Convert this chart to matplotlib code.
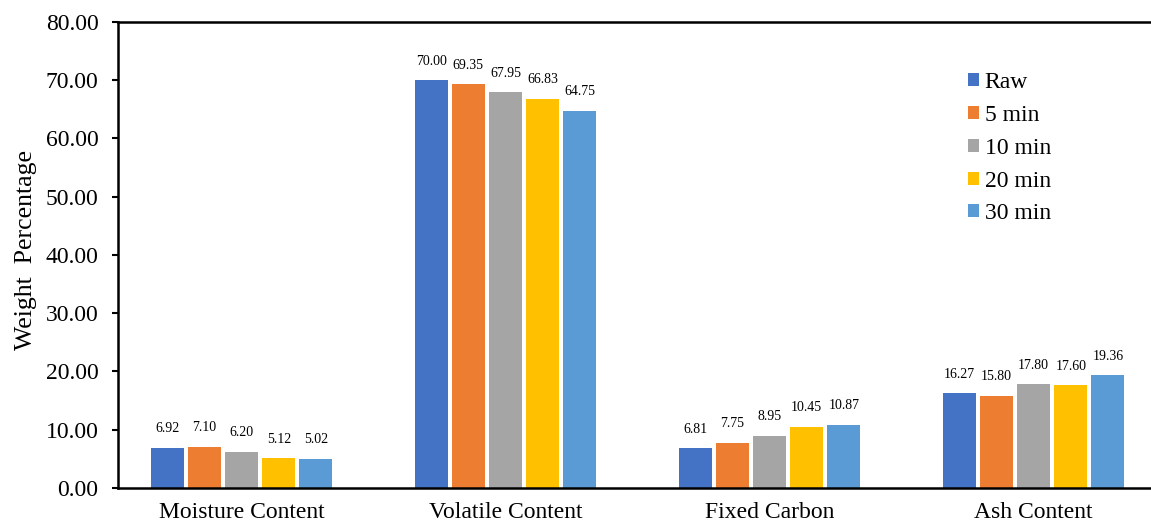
import matplotlib
matplotlib.use("Agg")
import matplotlib.pyplot as plt
import numpy as np

categories = ["Moisture Content", "Volatile Content", "Fixed Carbon", "Ash Content"]
series_names = ["Raw", "5 min", "10 min", "20 min", "30 min"]
raw = [6.92, 70.00, 6.81, 16.27]
min5 = [7.10, 69.35, 7.75, 15.80]
min10 = [6.20, 67.95, 8.95, 17.80]
min20 = [5.12, 66.83, 10.45, 17.60]
min30 = [5.02, 64.75, 10.87, 19.36]
yticks = [0, 10, 20, 30, 40, 50, 60, 70, 80]

series = [raw, min5, min10, min20, min30]
colors = ["#4472C4", "#ED7D31", "#A5A5A5", "#FFC000", "#5B9BD5"]

plt.rcParams['font.family'] = ['Liberation Serif', 'DejaVu Serif']

fig = plt.figure(figsize=(11.51, 5.24), dpi=100)
ax = fig.add_axes([0.1025, 0.069, 0.8975, 0.889])

x = np.arange(len(categories))
step = 0.141
width = 0.125
for i, (vals, name, c) in enumerate(zip(series, series_names, colors)):
    pos = x + (i - 2) * step
    bars = ax.bar(pos, vals, width, color=c, label=name, zorder=2)
    for b, v in zip(bars, vals):
        ax.annotate(f"{v:.2f}", (b.get_x() + b.get_width() / 2, v),
                    xytext=(0, 9), textcoords="offset points",
                    ha="center", va="bottom", fontsize=10)

ax.set_xlim(-0.468, 3.445)
ax.set_ylim(0, 80)
ax.set_yticks(yticks)
ax.set_yticklabels([f"{t:.2f}" for t in yticks], fontsize=17)
ax.set_xticks(x)
ax.set_xticklabels(categories, fontsize=17)
ax.tick_params(axis='x', length=0, pad=10)
ax.tick_params(axis='y', length=4, width=1.5, direction='out', pad=10)
fig.text(0.0225, 0.523, "Weight  Percentage", rotation=90, fontsize=18.5,
         ha="center", va="center")

for s in ["left", "bottom", "top"]:
    ax.spines[s].set_linewidth(1.8)
ax.spines["right"].set_visible(False)

leg = ax.legend(loc="upper left", bbox_to_anchor=(0.802, 0.938), frameon=False,
                fontsize=17, handlelength=0.47, handleheight=0.47,
                handletextpad=0.25, labelspacing=0.5)

fig.savefig("out.png", dpi=100)
